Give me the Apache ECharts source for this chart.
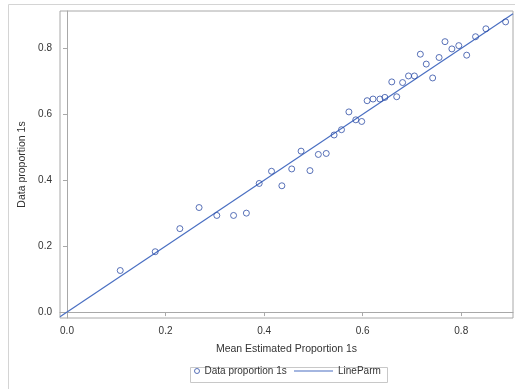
<!DOCTYPE html>
<html>
<head>
<meta charset="utf-8">
<script src="https://cdn.jsdelivr.net/npm/echarts@6/dist/echarts.min.js"></script>
<style>html,body{margin:0;padding:0;background:#fff}#c{width:515px;height:389px}</style>
</head>
<body>
<div id="c"></div>
<script>
// Observed data: Mean Estimated Proportion 1s (x) vs Data proportion 1s (y)
var meanEstimated = [0.108,0.179,0.229,0.268,0.304,0.338,0.364,0.390,0.415,0.436,0.456,0.475,0.493,0.510,0.526,0.542,0.557,0.572,0.586,0.598,0.609,0.621,0.635,0.645,0.659,0.669,0.681,0.693,0.705,0.717,0.729,0.742,0.755,0.767,0.781,0.795,0.811,0.829,0.850,0.890];
var dataProportion = [0.126,0.183,0.253,0.317,0.293,0.293,0.300,0.390,0.427,0.383,0.434,0.488,0.429,0.478,0.481,0.537,0.553,0.607,0.583,0.578,0.641,0.646,0.646,0.651,0.698,0.653,0.696,0.716,0.716,0.782,0.752,0.710,0.772,0.820,0.798,0.808,0.779,0.835,0.859,0.880];
// LineParm (reference line) endpoints
var lineParmX = [-0.0142, 0.905];
var lineParmY = [-0.0142, 0.905];
// Tick labels
var xTicks = [0, 0.2, 0.4, 0.6, 0.8];
var yTicks = [0, 0.2, 0.4, 0.6, 0.8];
var seriesNames = ['Data proportion 1s', 'LineParm'];

var font = '"Liberation Sans", Arial, sans-serif';
var txt = '#333333';
var axisGray = '#a8a8a8';
var markerColor = '#2f4fa6';
var lineColor = '#4a6fc2';

var scatterData = meanEstimated.map(function (x, i) { return [x, dataProportion[i]]; });
var lineData = lineParmX.map(function (x, i) { return [x, lineParmY[i]]; });

var chart = echarts.init(document.getElementById('c'), null, {renderer: 'canvas'});
chart.setOption({
  animation: false,
  backgroundColor: '#ffffff',
  grid: {left: 60, top: 11, right: 2, bottom: 71, show: true, borderColor: axisGray, borderWidth: 1, containLabel: false},
  xAxis: {
    type: 'value', min: -0.0142, max: 0.905,
    name: 'Mean Estimated Proportion 1s', nameLocation: 'middle', nameGap: 26,
    nameTextStyle: {fontFamily: font, fontSize: 10.5, color: txt},
    axisLine: {show: true, lineStyle: {color: axisGray}},
    axisTick: {show: true, length: 4, lineStyle: {color: axisGray}, customValues: xTicks},
    axisLabel: {fontFamily: font, fontSize: 10, color: txt, margin: 8, customValues: xTicks,
      formatter: function (v) { return v.toFixed(1); }},
    splitLine: {show: false}
  },
  yAxis: {
    type: 'value', min: -0.018, max: 0.913,
    name: 'Data proportion 1s', nameLocation: 'middle', nameGap: 31,
    nameTextStyle: {fontFamily: font, fontSize: 10.5, color: txt},
    axisLine: {show: true, lineStyle: {color: axisGray}},
    axisTick: {show: true, length: 4, lineStyle: {color: axisGray}, customValues: yTicks},
    axisLabel: {fontFamily: font, fontSize: 10, color: txt, margin: 8, customValues: yTicks,
      formatter: function (v) { return v.toFixed(1); }},
    splitLine: {show: false}
  },
  legend: [
    {data: [{name: seriesNames[0], icon: 'circle',
             itemStyle: {color: 'rgba(255,255,255,0)', borderColor: markerColor, borderWidth: 1}}],
     left: 194, top: 366, padding: 0, itemWidth: 5, itemHeight: 14, itemGap: 5,
     textStyle: {fontFamily: font, fontSize: 10, color: txt}},
    {data: [{name: seriesNames[1], icon: 'path://M0,0L39,0L39,1.2L0,1.2Z'}], left: 294, top: 366, padding: 0,
     itemWidth: 39, itemHeight: 14, itemGap: 5, symbolKeepAspect: true,
     textStyle: {fontFamily: font, fontSize: 10, color: txt}}
  ],
  graphic: [
    {type: 'rect', left: 6, top: 2, shape: {x: 0, y: 0, width: 520, height: 386}, silent: true,
     style: {fill: 'none', stroke: '#d4d4d4', lineWidth: 1}},
    {type: 'rect', left: 188, top: 365, shape: {x: 0, y: 0, width: 197, height: 15}, silent: true,
     style: {fill: 'none', stroke: '#c8c8c8', lineWidth: 1}}
  ],
  series: [
    {name: seriesNames[0], type: 'scatter', data: scatterData, symbol: 'circle', symbolSize: 6,
     itemStyle: {color: 'rgba(255,255,255,0)', borderColor: markerColor, borderWidth: 1}, z: 3},
    {name: seriesNames[1], type: 'line', data: lineData, symbol: 'none', showSymbol: false,
     lineStyle: {color: lineColor, width: 1.2}, itemStyle: {color: lineColor}, z: 2}
  ]
});
</script>
</body>
</html>
